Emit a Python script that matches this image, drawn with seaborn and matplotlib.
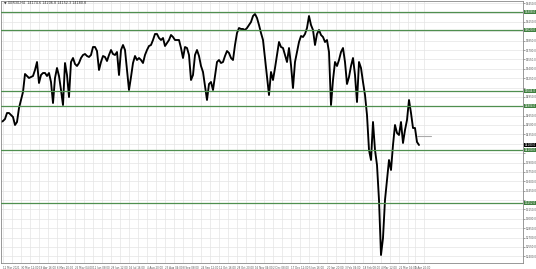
import matplotlib
matplotlib.use("Agg")
import matplotlib.pyplot as plt
import matplotlib.transforms as mtransforms
import pandas as pd
import seaborn as sns

close = [
    14548, 14564, 14596, 14692, 14692, 14660, 14628, 14500, 14548, 14772,
    14900, 15028, 15316, 15284, 15252, 15268, 15284, 15380, 15508, 15172,
    15300, 15332, 15332, 15284, 15332, 15188, 14852, 15252, 15412, 15284,
    15060, 14820, 15492, 15300, 14948, 15508, 15572, 15476, 15444, 15492,
    15572, 15620, 15636, 15604, 15588, 15620, 15748, 15748, 15684, 15380,
    15508, 15604, 15588, 15524, 15620, 15700, 15636, 15620, 15668, 15300,
    15700, 15780, 15700, 15380, 15060, 15268, 15492, 15604, 15540, 15572,
    15540, 15492, 15620, 15700, 15764, 15780, 15860, 15956, 15956, 15892,
    15860, 15892, 15764, 15812, 15860, 15940, 15908, 15860, 15860, 15860,
    15732, 15572, 15748, 15732, 15620, 15220, 15300, 15620, 15700, 15604,
    15444, 15348, 15124, 14900, 15156, 15188, 15060, 15284, 15508, 15540,
    15492, 15508, 15604, 15684, 15652, 15572, 15540, 15780, 15972, 16052,
    16036, 16036, 16020, 16052, 16100, 16148, 16244, 16276, 16212, 16100,
    15972, 15860, 15572, 15300, 14980, 15348, 15220, 15412, 15620, 15828,
    15748, 15732, 15620, 15508, 15732, 15460, 15092, 15508, 15668, 15828,
    15924, 15908, 15956, 16052, 16244, 16100, 16020, 15780, 15956, 16020,
    15940, 15908, 15828, 15860, 15668, 14820, 15220, 15508, 15444, 15540,
    15668, 15732, 15508, 15156, 15268, 15444, 15572, 15300, 14868, 15508,
    15412, 15188, 14980, 14660, 14100, 13940, 14548, 14100, 13860, 13300,
    12420, 12692, 13300, 13620, 13940, 13780, 14180, 14500, 14372, 14340,
    14548, 14212, 14420, 14580, 14900, 14692, 14452, 14452, 14228, 14180,
]

level_lines = [16308, 16020, 15044, 14804, 14100, 13252]
current_price = 14180
marker_level = 14329

date_labels = [
    "12 Mar 2021", "30 Mar 12:00", "19 Apr 16:00", "6 May 20:00",
    "26 May 04:00", "11 Jun 08:00", "29 Jun 12:00", "16 Jul 16:00",
    "4 Aug 20:00", "23 Aug 04:00", "8 Sep 08:00", "24 Sep 12:00",
    "12 Oct 16:00", "28 Oct 20:00", "16 Nov 04:00", "2 Dec 08:00",
    "17 Dec 12:00", "5 Jan 16:00", "20 Jan 20:00", "3 Feb 04:00",
    "18 Feb 08:00", "4 Mar 12:00", "22 Mar 16:00", "5 Apr 20:00",
]
price_ticks = list(range(16450, 12300, -150))

title = "\u25bc GER30,H4  14174.6 14206.8 14152.3 14180.8"

# ---- drawing ----
sns.set_theme(style="white")
plt.rcParams["font.family"] = ["DejaVu Sans"]

W, H = 536, 269
fig = plt.figure(figsize=(W / 100, H / 100), dpi=100)
fig.patch.set_facecolor("white")
ax = fig.add_axes([1 / W, 1 - 263 / H, 522 / W, 262 / H])

df = pd.DataFrame({"bar": range(len(close)), "close": close})
sns.lineplot(data=df, x="bar", y="close", ax=ax, color="black", lw=1.35)

ax.set_xlim(0, 261)
ax.set_ylim(12292, 16484)

# ticks & grid
n = len(date_labels)
xt = [1 + 9 * k for k in range(n - 1)] + [207]
ax.set_xticks(xt)
ax.set_xticklabels(date_labels, ha="left")
ax.set_xticks([p + 4.5 for p in xt], minor=True)

marks = level_lines + [current_price]
ax.set_yticks(price_ticks)
ax.set_yticklabels([
    "" if any(abs(v - m) < 80 for m in marks) else f"{v:.1f}" for v in price_ticks
])
ax.yaxis.tick_right()
ax.grid(True, which="both", color="#e4e4e4", lw=0.5)
ax.set_axisbelow(True)

ax.tick_params(axis="x", which="major", labelsize=1.9, colors="#555555",
               length=1.5, width=0.4, pad=0.8)
ax.tick_params(axis="y", which="major", labelsize=2.0, colors="#555555",
               length=1.5, width=0.4, pad=0.6)
ax.tick_params(axis="x", which="minor", length=0)
ax.set_xlabel("")
ax.set_ylabel("")
for s in ax.spines.values():
    s.set_color("#888888")
    s.set_linewidth(0.6)

# horizontal levels
trans = mtransforms.blended_transform_factory(ax.transAxes, ax.transData)
for v in level_lines:
    ax.axhline(v, color="#4f8f4f", lw=0.9, zorder=3)
    ax.text(1.003, v, f"{v:.1f}", transform=trans, fontsize=2.0, color="white",
            va="center", ha="left", clip_on=False,
            bbox=dict(boxstyle="square,pad=0.1", fc="#3f7f3f", ec="none"))

ax.plot([len(close) - 2, len(close) + 5], [marker_level, marker_level],
        color="#aaaaaa", lw=0.8)
ax.text(1.003, current_price, f"{current_price:.1f}", transform=trans, fontsize=2.0,
        color="white", va="center", ha="left", clip_on=False,
        bbox=dict(boxstyle="square,pad=0.1", fc="black", ec="none"))

fig.text(4 / W, 1 - 1 / H, title, fontsize=2.4, color="#333333", va="top", ha="left")

fig.savefig("out.png", dpi=100, facecolor="white")
